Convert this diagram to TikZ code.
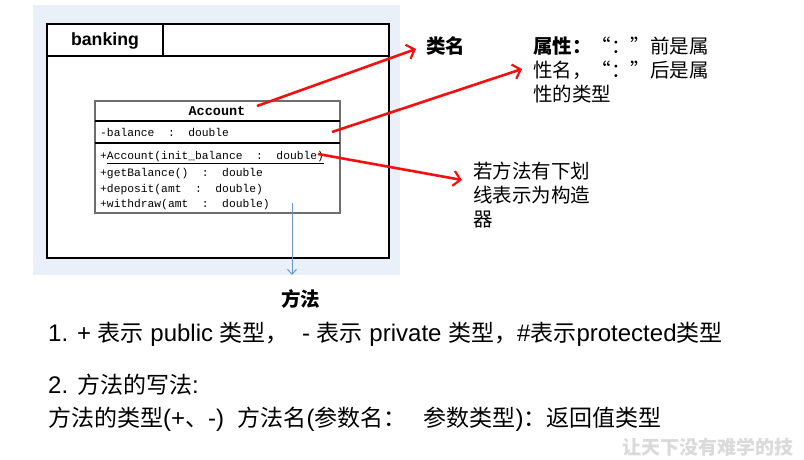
\documentclass[tikz,border=0pt]{standalone}
\usepackage{fontspec}
\setmainfont{Liberation Sans}
\setmonofont{Liberation Mono}
\newfontfamily\zh{Noto Sans CJK SC}
\newfontfamily\zhq{Noto Sans CJK SC}[RawFeature=+fwid]
\usetikzlibrary{arrows.meta}

% Chinese runs inside the explanatory lines
\newcommand\zhbody[1]{{\zh\fontsize{23}{28}\selectfont #1}}

\definecolor{panelblue}{HTML}{EAF0F9}
\definecolor{classgrey}{HTML}{6E6E6E}
\definecolor{notered}{HTML}{F21010}
\definecolor{methodblue}{HTML}{6A95CC}
\definecolor{markgrey}{HTML}{DADADA}

\tikzset{
  txt/.style={inner sep=0pt, anchor=base west},
  mono/.style={txt, font=\ttfamily\fontsize{11.3}{13}\selectfont},
  note/.style={txt, font=\zh\fontsize{19.5}{24}\selectfont, align=left},
  body/.style={txt, font=\fontsize{24}{28}\selectfont},
  pointer/.style={draw=notered, line width=2.6pt,
    -{Straight Barb[length=7pt,width=15pt,line width=2.2pt]}},
  downlink/.style={draw=methodblue, line width=1pt,
    -{Straight Barb[length=5pt,width=9pt,line width=1pt]}}
}

\begin{document}
\begin{tikzpicture}[x=1pt,y=-1pt]
  \useasboundingbox (0,0) rectangle (804,460);
  \clip (0,0) rectangle (804,460);
  \fill[white] (0,0) rectangle (804,460);

  % shaded panel behind the package diagram
  \fill[panelblue] (33,5) rectangle (400,275);

  % package "banking"
  \draw[line width=1.3pt, fill=white] (47,24) rectangle (389,258);
  \draw[line width=1.3pt] (47,56) -- (389,56);
  \draw[line width=1.3pt] (163,24) -- (163,56);
  \node[font=\bfseries\fontsize{17.7}{20}\selectfont, inner sep=0pt] (pkg) at (105,41) {banking};

  % class "Account"
  \draw[classgrey, line width=1.8pt, fill=white] (95,101) rectangle (340,213);
  \draw[line width=1.1pt] (95,121) -- (340,121);
  \draw[line width=1.1pt] (95,143) -- (340,143);
  \node[font=\ttfamily\bfseries\fontsize{13.5}{15}\selectfont, inner sep=0pt, anchor=base] (cls) at (217,115) {Account};
  \node[mono] (attr) at (100,136) {-balance\ \ :\ \ double};
  \node[mono] (ctor) at (100,159) {+\underline{Account(init\_balance\ \ :\ \ double)}};
  \node[mono] (m1) at (100,176) {+getBalance()\ \ :\ \ double};
  \node[mono] (m2) at (100,192) {+deposit(amt\ \ :\ \ double)};
  \node[mono] (m3) at (100,207) {+withdraw(amt\ \ :\ \ double)};

  % annotations (a multi-line node sits on the baseline of its last line)
  \node[note, font=\zh\bfseries\fontsize{19.5}{24}\selectfont] (clsname) at (426,53.5) {类名};
  \node[note] (attrnote) at (533,101.5)
    {\textbf{属性：}{\zhq “}：{\zhq ”}前是属\\性名，{\zhq “}：{\zhq ”}后是属\\性的类型};
  \node[note] (ctornote) at (473,226) {若方法有下划\\线表示为构造\\器};
  \node[note, font=\zh\bfseries\fontsize{19.5}{24}\selectfont] (methods) at (281,306.5) {方法};

  % pointers
  \coordinate (c1) at (257,106);
  \coordinate (t1) at (416,49);
  \coordinate (c2) at (332,132);
  \coordinate (t2) at (522,69);
  \coordinate (c3) at (318,154);
  \coordinate (t3) at (462,180);
  \draw[pointer] (c1) -- (t1);
  \draw[pointer] (c2) -- (t2);
  \draw[pointer] (c3) -- (t3);
  \coordinate (b0) at (292,203);
  \coordinate (b1) at (292,275);
  \draw[downlink] (b0) -- (b1);

  % explanatory text
  \node[body] (rule1) at (48,341.5)
    {1. + \zhbody{表示} public \zhbody{类型，} \ - \zhbody{表示} private \zhbody{类型，}\#\zhbody{表示}protected\zhbody{类型}};
  \node[body] (rule2) at (48,393.5) {2. \zhbody{方法的写法}:};
  \node[body] (rule3) at (48,426.5)
    {\zhbody{方法的类型}(+\zhbody{、}-)\ \ \zhbody{方法名}(\zhbody{参数名：}\hspace{17pt}\zhbody{参数类型})\zhbody{：返回值类型}};

  % watermark
  \node[txt, font=\zh\bfseries\fontsize{19}{22}\selectfont, text=markgrey] (mark) at (622,454) {让天下没有难学的技};
\end{tikzpicture}
\end{document}
